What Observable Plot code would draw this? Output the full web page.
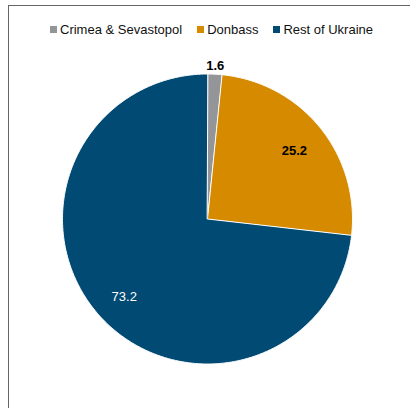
<!DOCTYPE html>
<html>
<head>
<meta charset="utf-8">
<script src="https://cdn.jsdelivr.net/npm/d3@7"></script>
<script src="https://cdn.jsdelivr.net/npm/@observablehq/plot@0.6"></script>
<style>
  html, body { margin: 0; padding: 0; background: #fff; }
  #wrap { position: relative; width: 410px; height: 408px; overflow: hidden; font-family: "Liberation Sans", Arial, sans-serif; }
  #frame { position: absolute; left: 8px; top: 5px; right: -4px; bottom: -4px; border-top: 1.5px solid #666; border-left: 1.5px solid #666; }
  #legend { position: absolute; left: 50px; top: 22px; display: flex; align-items: center; font-size: 13px; color: #111; white-space: nowrap; }
  #legend .item { display: flex; align-items: center; margin-right: 15px; }
  #legend .sw { width: 7px; height: 7px; margin-right: 3px; }
  #chart { position: absolute; left: 0; top: 0; }
</style>
</head>
<body>
<div id="wrap">
  <div id="frame"></div>
  <div id="chart"></div>
  <div id="legend"></div>
</div>
<script>
const categories = ["Crimea & Sevastopol", "Donbass", "Rest of Ukraine"];
const values = [1.6, 25.2, 73.2];
const colors = ["#939598", "#D68A00", "#004A73"];

const data = categories.map((name, i) => ({name, value: values[i]}));
const arcs = d3.pie().sort(null).value(d => d.value)(data);

// polygon outline for each slice (angle clockwise from 12 o'clock)
const pts = [];
arcs.forEach(a => {
  const name = a.data.name;
  pts.push({name, x: 0, y: 0});
  const n = Math.max(2, Math.ceil((a.endAngle - a.startAngle) / 0.01));
  for (let k = 0; k <= n; k++) {
    const t = a.startAngle + (a.endAngle - a.startAngle) * k / n;
    pts.push({name, x: Math.sin(t), y: Math.cos(t)});
  }
});

const labels = arcs.map(a => {
  const mid = (a.startAngle + a.endAngle) / 2;
  const small = a.data.value < 5;
  const r = small ? 1.07 : 0.77;
  return {name: a.data.name, text: String(a.data.value), x: r * Math.sin(mid), y: r * Math.cos(mid), dark: a.data.name === "Rest of Ukraine"};
});

const font = "Liberation Sans, Arial, sans-serif";
const chart = Plot.plot({
  width: 410,
  height: 408,
  marginLeft: 62,
  marginRight: 58,
  marginTop: 73.5,
  marginBottom: 44.5,
  style: {background: "transparent", fontFamily: font},
  x: {domain: [-1, 1], axis: null},
  y: {domain: [-1, 1], axis: null},
  color: {domain: categories, range: colors},
  marks: [
    Plot.line(pts, {x: "x", y: "y", z: "name", fill: "name", stroke: "white", strokeWidth: 1, curve: "linear-closed"}),
    Plot.text(labels.filter(d => !d.dark), {x: "x", y: "y", dy: 2, text: "text", fill: "#000", fontWeight: "bold", fontSize: 13, fontFamily: font}),
    Plot.text(labels.filter(d => d.dark), {x: "x", y: "y", dy: 3, text: "text", fill: "#fff", fontSize: 13, fontFamily: font})
  ]
});
document.getElementById("chart").appendChild(chart);

const leg = document.getElementById("legend");
categories.forEach((c, i) => {
  const item = document.createElement("div");
  item.className = "item";
  const sw = document.createElement("div");
  sw.className = "sw";
  sw.style.background = colors[i];
  const tx = document.createElement("span");
  tx.textContent = c;
  item.appendChild(sw);
  item.appendChild(tx);
  leg.appendChild(item);
});
</script>
</body>
</html>
